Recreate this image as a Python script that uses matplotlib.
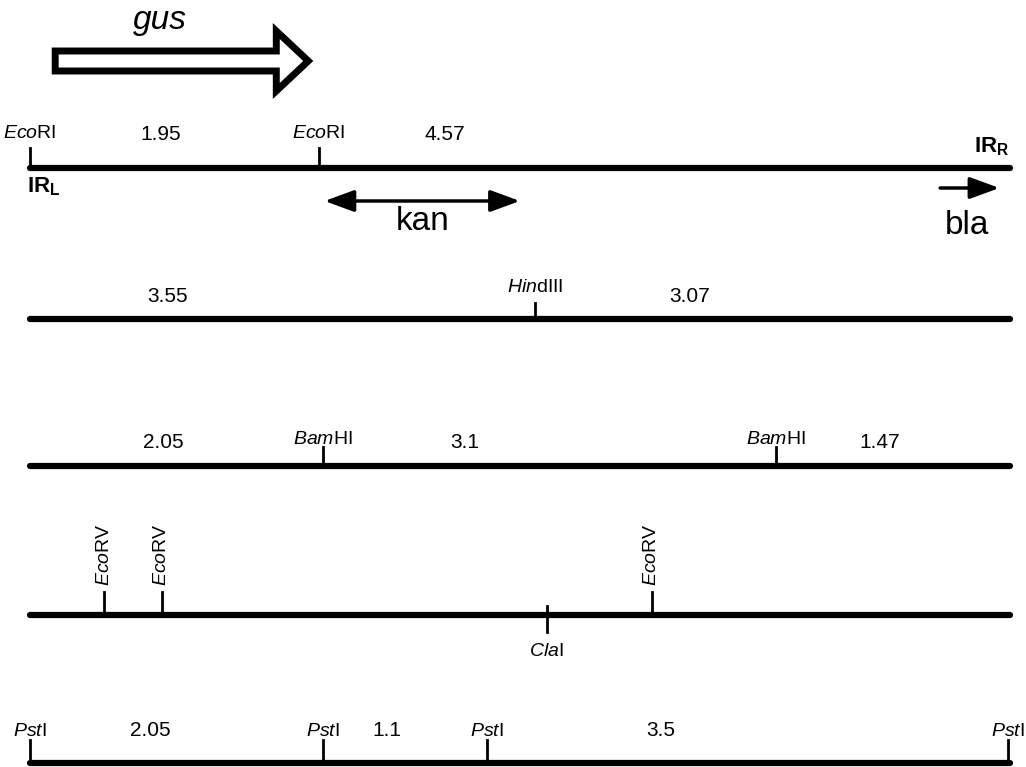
import matplotlib.pyplot as plt
from matplotlib.patches import FancyArrow

plt.rcParams['font.family'] = 'Liberation Sans'
plt.rcParams['mathtext.fontset'] = 'custom'
plt.rcParams['mathtext.rm'] = 'Liberation Sans'
plt.rcParams['mathtext.it'] = 'Liberation Sans:italic'
plt.rcParams['mathtext.bf'] = 'Liberation Sans:bold'

# map length (kb) and sites
MAP_LEN = 6.62

ecori_sites = [0.0, 1.95]
ecori_frags = ['1.95', '4.57']
ecori_frag_x = [0.88, 2.80]

hind_sites = [3.41]
hind_frags = ['3.55', '3.07']
hind_frag_x = [0.93, 4.46]

bam_sites = [1.98, 5.04]
bam_frags = ['2.05', '3.1', '1.47']
bam_frag_x = [0.90, 2.94, 5.74]

ecorv_sites = [0.50, 0.89, 4.20]
cla_sites = [3.49]

pst_sites = [0.0, 1.98, 3.09, 6.61]
pst_frags = ['2.05', '1.1', '3.5']
pst_frag_x = [0.81, 2.41, 4.26]

# genes (kb)
gus_span = [0.17, 1.88]
kan_span = [1.99, 3.31]
bla_span = [6.15, 6.55]

ECO = r'$\mathit{Eco}$'
LINE_LW = 4.5
TICK_LW = 2.0
NUM_FS = 15
ENZ_FS = 14
GENE_FS = 24
HEAD = 'head_length=0.6,head_width=0.22'

fig = plt.figure(figsize=(10.26, 7.67), dpi=100)
ax = fig.add_axes([0, 0, 1, 1])
ax.set_xlim(-0.203, 6.73)
ax.set_ylim(767, 0)
ax.axis('off')


def draw_row(y, sites, names, frags, frag_x, tick_h=20, name_gap=14, num_dy=-31):
    ax.plot([0, MAP_LEN], [y, y], color='black', lw=LINE_LW, solid_capstyle='round')
    for s, n in zip(sites, names):
        ax.plot([s, s], [y, y - tick_h], color='black', lw=TICK_LW)
        ax.text(s, y - tick_h - name_gap, n, ha='center', va='center', fontsize=ENZ_FS)
    for f, fx in zip(frags, frag_x):
        ax.text(fx, y + num_dy, f, ha='center', va='center', fontsize=NUM_FS)


# row 1: EcoRI
y1 = 168
draw_row(y1, ecori_sites, [ECO + 'RI'] * 2, ecori_frags, ecori_frag_x, num_dy=-33)
ax.text(-0.02, 187, r'$\mathbf{IR}_{\mathbf{L}}$', ha='left', va='center', fontsize=16)
ax.text(MAP_LEN, 147, r'$\mathbf{IR}_{\mathbf{R}}$', ha='right', va='center', fontsize=16)

gus = FancyArrow(gus_span[0], 61, gus_span[1] - gus_span[0], 0, width=20, head_width=60,
                 head_length=0.216, length_includes_head=True,
                 fc='white', ec='black', lw=5, joinstyle='miter')
ax.add_patch(gus)
ax.text(0.88, 20, 'gus', ha='center', va='center', fontsize=GENE_FS, style='italic')

ax.annotate('', xy=(kan_span[1], 201), xytext=(kan_span[0], 201),
            arrowprops=dict(arrowstyle='<|-|>,' + HEAD, lw=2.5,
                            color='black', mutation_scale=30, shrinkA=0, shrinkB=0))
ax.text(sum(kan_span) / 2, 222, 'kan', ha='center', va='center', fontsize=GENE_FS)

ax.annotate('', xy=(bla_span[1], 188), xytext=(bla_span[0], 188),
            arrowprops=dict(arrowstyle='-|>,' + HEAD, lw=2.5,
                            color='black', mutation_scale=30, shrinkA=0, shrinkB=0))
ax.text(6.33, 226, 'bla', ha='center', va='center', fontsize=GENE_FS)

# row 2: HindIII
draw_row(319, hind_sites, [r'$\mathit{Hin}$dIII'], hind_frags, hind_frag_x,
         tick_h=16, name_gap=15, num_dy=-23)

# row 3: BamHI
draw_row(466, bam_sites, [r'$\mathit{Bam}$HI'] * 2, bam_frags, bam_frag_x,
         tick_h=19, name_gap=8, num_dy=-23)

# row 4: EcoRV above, ClaI below
y4 = 615
ax.plot([0, MAP_LEN], [y4, y4], color='black', lw=LINE_LW, solid_capstyle='round')
for s in ecorv_sites:
    ax.plot([s, s], [y4, y4 - 23], color='black', lw=TICK_LW)
    ax.text(s, y4 - 29, ECO + 'RV', ha='center', va='bottom', rotation=90, fontsize=ENZ_FS)
for s in cla_sites:
    ax.plot([s, s], [y4 - 9, y4 + 17], color='black', lw=TICK_LW)
    ax.text(s, y4 + 36, r'$\mathit{Cla}$I', ha='center', va='center', fontsize=ENZ_FS)

# row 5: PstI
draw_row(763, pst_sites, [r'$\mathit{Pst}$I'] * 4, pst_frags, pst_frag_x,
         tick_h=23, name_gap=8, num_dy=-32)

fig.savefig('out.png', dpi=100)
